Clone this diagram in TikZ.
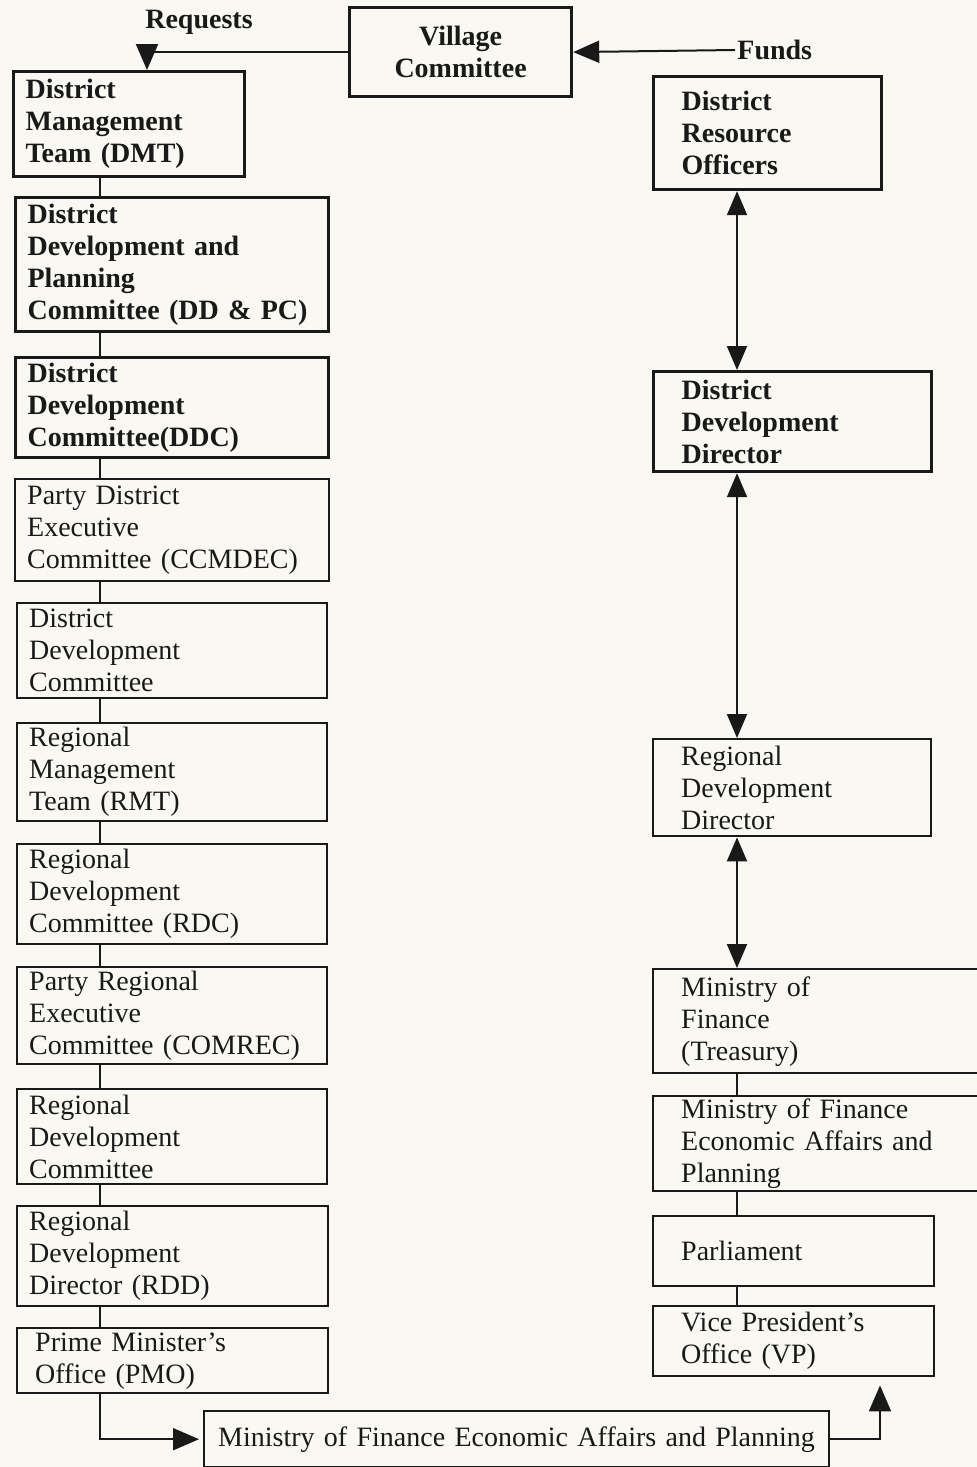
\documentclass[tikz,border=0pt]{standalone}
\usepackage{fontspec}
\setmainfont{Liberation Serif}
\usetikzlibrary{arrows.meta, positioning, calc}
\definecolor{paper}{RGB}{249,248,243}
\definecolor{ink}{RGB}{25,25,25}

\begin{document}
\begin{tikzpicture}[x=0.5pt, y=-0.5pt, color=ink,
    box/.style={draw, line width=1.2pt, anchor=north west, align=left, inner xsep=6pt, inner ysep=0pt,
        font=\fontsize{14}{16}\selectfont},
    bbox/.style={box, line width=1.6pt, font=\bfseries\fontsize{14}{16}\selectfont},
    rbox/.style={box, inner xsep=14pt},
    rbbox/.style={bbox, inner xsep=14pt},
    lbl/.style={inner sep=1pt, font=\bfseries\fontsize{14}{16}\selectfont},
    link/.style={line width=1pt},
    tip/.style={link, -{Triangle[length=13pt, width=11pt]}},
    both/.style={link, {Triangle[length=12pt, width=10pt]}-{Triangle[length=12pt, width=10pt]}}]
    \useasboundingbox (0,0) rectangle (977,1467);
    \fill[paper] (0,0) rectangle (977,1467);
    \clip (0,0) rectangle (977,1467);

    % spines
    \coordinate (ls) at (100,0);
    \coordinate (rs) at (737,0);
    \coordinate (rq) at (147,0);
    \coordinate (vs) at (880,0);

    % top
    \node[bbox, align=center, text width=99pt, minimum height=44.5pt] (vc) at (348,6) {Village\\Committee};
    \node[lbl] (req) at (199,22) {Requests};
    \node[lbl, anchor=west] (fund) at (735,50) {Funds};

    % left column
    \node[bbox, text width=103.5pt, minimum height=52.5pt] (dmt) at (12,70) {District\\Management\\Team (DMT)};
    \node[bbox, text width=144.5pt, minimum height=67pt] (ddpc) at (14,196) {District\\Development and\\Planning\\Committee (DD \& PC)};
    \node[bbox, text width=144.5pt, minimum height=50pt] (ddc) at (14,356) {District\\Development\\Committee(DDC)};
    \node[box, text width=145pt, minimum height=51pt] (ccmdec) at (14,478) {Party District\\Executive\\Committee (CCMDEC)};
    \node[box, text width=143pt, minimum height=47.5pt] (ddcom) at (16,602) {District\\Development\\Committee};
    \node[box, text width=143pt, minimum height=49pt] (rmt) at (16,722) {Regional\\Management\\Team (RMT)};
    \node[box, text width=143pt, minimum height=50pt] (rdc) at (16,843) {Regional\\Development\\Committee (RDC)};
    \node[box, text width=143pt, minimum height=48.5pt] (comrec) at (16,966) {Party Regional\\Executive\\Committee (COMREC)};
    \node[box, text width=143pt, minimum height=47.5pt] (rdcom) at (16,1088) {Regional\\Development\\Committee};
    \node[box, text width=143.5pt, minimum height=50pt] (rddl) at (16,1205) {Regional\\Development\\Director (RDD)};
    \node[box, inner xsep=9pt, text width=137.5pt, minimum height=32.5pt] (pmo) at (16,1327) {Prime Minister's\\Office (PMO)};
    \node[box, inner xsep=7pt, text width=298.5pt, minimum height=28pt] (mofb) at (203,1410) {Ministry of Finance Economic Affairs and Planning};

    % right column
    \node[rbbox, text width=86pt, minimum height=56.5pt] (dro) at (652,75) {District\\Resource\\Officers};
    \node[rbbox, text width=111pt, minimum height=50pt] (ddd) at (652,370) {District\\Development\\Director};
    \node[rbox, text width=111pt, minimum height=48.5pt] (rddr) at (652,738) {Regional\\Development\\Director};
    \node[rbox, text width=141pt, minimum height=52pt] (moft) at (652,968) {Ministry of\\Finance\\(Treasury)};
    \node[rbox, text width=141pt, minimum height=47.5pt] (mofe) at (652,1095) {Ministry of Finance\\Economic Affairs and\\Planning};
    \node[rbox, text width=112.5pt, minimum height=35pt] (parl) at (652,1215) {Parliament};
    \node[rbox, text width=112.5pt, minimum height=35pt] (vp) at (652,1305) {Vice President's\\Office (VP)};

    % connectors
    \draw[tip] (vc.west) -| (dmt.north -| rq);
    \draw[tip] (fund.west) -- (vc.east);
    \foreach \a/\b in {dmt/ddpc, ddpc/ddc, ddc/ccmdec, ccmdec/ddcom, ddcom/rmt, rmt/rdc,
        rdc/comrec, comrec/rdcom, rdcom/rddl, rddl/pmo}
        \draw[link] (\a.south -| ls) -- (\b.north -| ls);
    \foreach \a/\b in {dro/ddd, ddd/rddr, rddr/moft}
        \draw[both] (\a.south -| rs) -- (\b.north -| rs);
    \foreach \a/\b in {moft/mofe, mofe/parl, parl/vp}
        \draw[link] (\a.south -| rs) -- (\b.north -| rs);
    \draw[tip, shorten >=2pt] (pmo.south -| ls) |- (mofb.west);
    \draw[tip, shorten >=4pt] (mofb.east) -| (vp.south -| vs);
\end{tikzpicture}
\end{document}
